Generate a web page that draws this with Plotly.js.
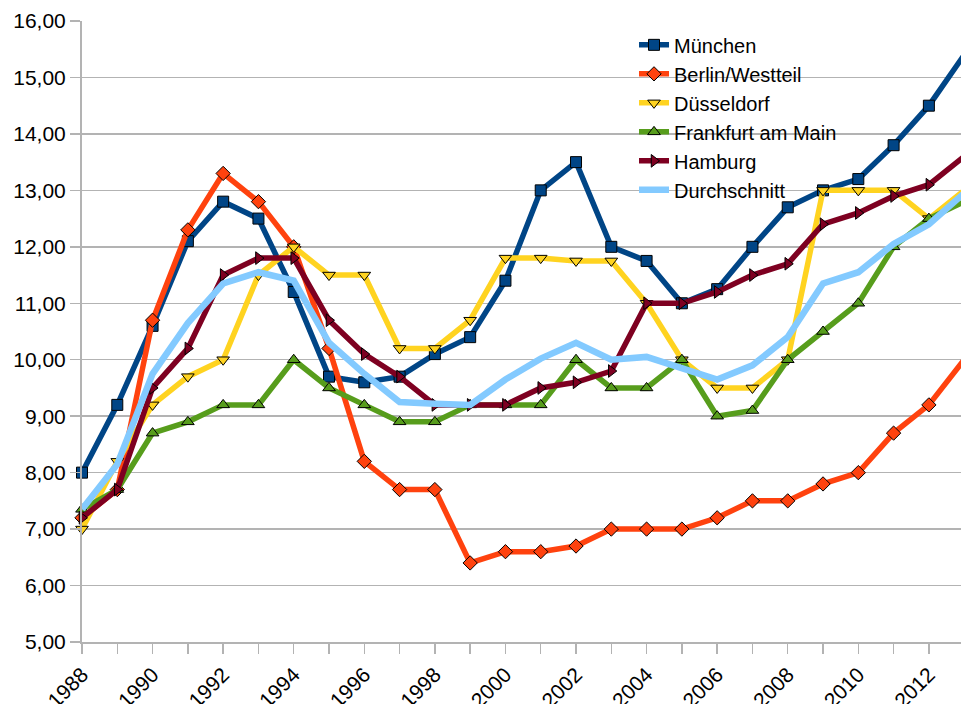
<!DOCTYPE html>
<html>
<head>
<meta charset="utf-8">
<script src="https://cdn.plot.ly/plotly-3.0.1.min.js"></script>
<style>html,body{margin:0;padding:0;overflow:hidden;background:#fff}</style>
</head>
<body>
<div id="chart" style="width:961px;height:704px"></div>
<script>
const years = [1988,1989,1990,1991,1992,1993,1994,1995,1996,1997,1998,1999,2000,2001,2002,2003,2004,2005,2006,2007,2008,2009,2010,2011,2012,2013];
const muenchen = [8.0,9.2,10.6,12.1,12.8,12.5,11.2,9.7,9.6,9.7,10.1,10.4,11.4,13.0,13.5,12.0,11.75,11.0,11.25,12.0,12.7,13.0,13.2,13.8,14.5,15.4];
const berlin = [7.2,7.7,10.7,12.3,13.3,12.8,12.0,10.2,8.2,7.7,7.7,6.4,6.6,6.6,6.7,7.0,7.0,7.0,7.2,7.5,7.5,7.8,8.0,8.7,9.2,10.0];
const duesseldorf = [7.0,8.2,9.2,9.7,10.0,11.5,12.0,11.5,11.5,10.2,10.2,10.7,11.8,11.8,11.75,11.75,11.0,10.0,9.5,9.5,10.0,13.0,13.0,13.0,12.5,13.0];
const frankfurt = [7.35,7.7,8.7,8.9,9.2,9.2,10.0,9.5,9.2,8.9,8.9,9.2,9.2,9.2,10.0,9.5,9.5,10.0,9.0,9.1,10.0,10.5,11.0,12.0,12.5,12.8];
const hamburg = [7.2,7.7,9.5,10.2,11.5,11.8,11.8,10.7,10.1,9.7,9.2,9.2,9.2,9.5,9.6,9.8,11.0,11.0,11.2,11.5,11.7,12.4,12.6,12.9,13.1,13.6];
const durchschnitt = [7.35,8.15,9.75,10.65,11.35,11.55,11.4,10.3,9.75,9.25,9.22,9.2,9.65,10.02,10.3,10.0,10.05,9.85,9.65,9.9,10.4,11.35,11.55,12.05,12.4,12.95];
const seriesNames = ["München","Berlin/Westteil","Düsseldorf","Frankfurt am Main","Hamburg","Durchschnitt"];
const xTickVals = [1988,1990,1992,1994,1996,1998,2000,2002,2004,2006,2008,2010,2012];
const xTickText = ["1988","1990","1992","1994","1996","1998","2000","2002","2004","2006","2008","2010","2012"];

const font = "Liberation Sans, Arial, sans-serif";
function tr(y, name, color, symbol) {
  const t = {x: years, y: y, name: name, type: 'scatter', mode: symbol ? 'lines+markers' : 'lines',
    cliponaxis: false,
    line: {color: color, width: symbol ? 5.5 : 6.5}};
  if (symbol) t.marker = {symbol: symbol, size: 11, color: color, line: {color: '#000', width: 1}};
  return t;
}
const data = [
  tr(muenchen, seriesNames[0], '#004586', 'square'),
  tr(berlin, seriesNames[1], '#ff420e', 'diamond'),
  tr(duesseldorf, seriesNames[2], '#ffd320', 'triangle-down'),
  tr(frankfurt, seriesNames[3], '#579d1c', 'triangle-up'),
  tr(hamburg, seriesNames[4], '#7e0021', 'triangle-right'),
  tr(durchschnitt, seriesNames[5], '#83caff', null)
];
const layout = {
  width: 961, height: 704,
  margin: {l: 82, r: 0, t: 21, b: 62},
  paper_bgcolor: '#fff', plot_bgcolor: '#fff',
  separators: ', ',
  font: {family: font, size: 21, color: '#000'},
  showlegend: true,
  legend: {x: 0.628, y: 0.993, xanchor: 'left', yanchor: 'top', bgcolor: 'rgba(0,0,0,0)',
    font: {family: font, size: 20, color: '#000'}, itemwidth: 30, tracegroupgap: 0},
  xaxis: {range: [1988, 2012.91], tickvals: xTickVals, ticktext: xTickText, tickangle: -45,
    ticks: 'outside', ticklen: 10, tickcolor: '#b3b3b3', tickwidth: 1.5,
    minor: {dtick: 1, tick0: 1988, ticks: 'outside', ticklen: 10, tickcolor: '#b3b3b3', tickwidth: 1.5, showgrid: false},
    showgrid: false, showline: true, linecolor: '#b3b3b3', linewidth: 2, zeroline: false,
    tickfont: {family: font, size: 21, color: '#000'}},
  yaxis: {range: [5, 16], dtick: 1, tick0: 5, tickformat: '.2f',
    ticks: 'outside', ticklen: 10, tickcolor: '#b3b3b3', tickwidth: 1.5,
    showgrid: true, gridcolor: '#b3b3b3', gridwidth: 1.5,
    showline: true, linecolor: '#b3b3b3', linewidth: 2, zeroline: false,
    tickfont: {family: font, size: 21, color: '#000'}}
};
Plotly.newPlot('chart', data, layout, {displayModeBar: false, staticPlot: true});
</script>
</body>
</html>
